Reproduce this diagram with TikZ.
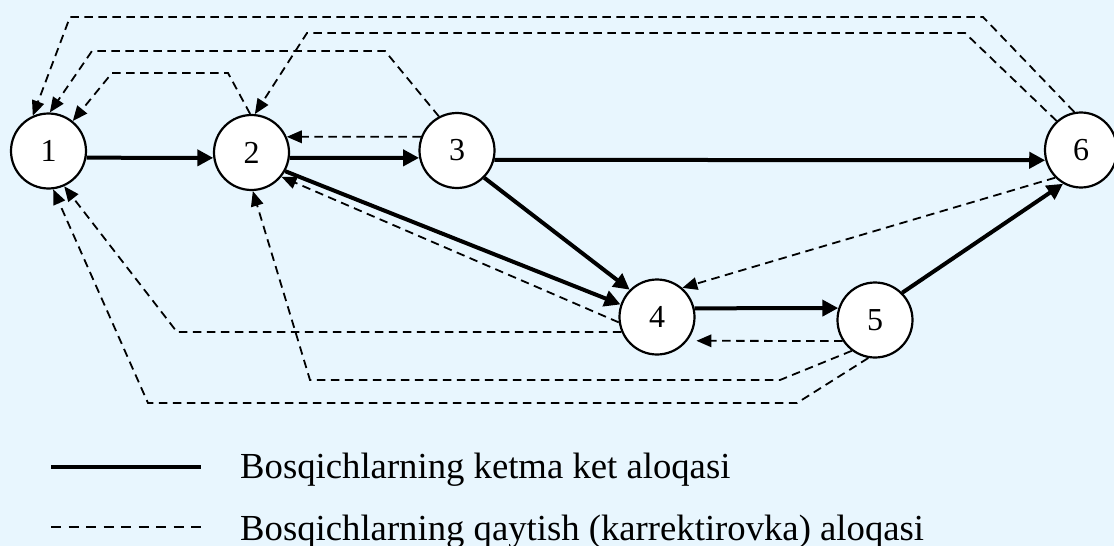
\documentclass[tikz,border=0pt]{standalone}
\usepackage{fontspec}
\setmainfont{Liberation Serif}
\usetikzlibrary{arrows.meta,shapes.geometric}
\definecolor{bg}{RGB}{232,246,254}
\begin{document}
\begin{tikzpicture}[x=1pt,y=-1pt,
  stage/.style={ellipse, draw, line width=2.2pt, fill=white, inner sep=0pt,
    minimum width=75pt, minimum height=75pt, font=\fontsize{32}{32}\selectfont},
  seq/.style={line width=4pt, -{Triangle[length=16pt,width=16pt]}},
  back/.style={line width=1.8pt, dash pattern=on 8.5pt off 5.5pt, -{Triangle[length=15pt,width=12.5pt]}},
  legtext/.style={anchor=base west, inner sep=0pt, font=\fontsize{36.7}{40}\selectfont}
]
\useasboundingbox (0,0) rectangle (1114,546);
\fill[bg] (0,0) rectangle (1114,546);

% stages
\node[stage] (n1) at (48.5,151) {1};
\node[stage] (n2) at (251.5,152.5) {2};
\node[stage] (n3) at (457,150.5) {3};
\node[stage, minimum width=72pt] (n6) at (1081,150) {6};
\node[stage] (n4) at (657,317) {4};
\node[stage] (n5) at (875,320) {5};

% sequential links
\draw[seq] (n1.-10) -- (n2.188);
\draw[seq] (n2.-8) -- (n3.191);
\draw[seq] (n3.-14) -- (n6.196);
\draw[seq] (n2.-29) -- (n4.161);
\draw[seq] (n3.-45) -- (n4.135);
\draw[seq] (n4.13.5) -- (n5.162);
\draw[seq] (n5.45) -- (n6.-118);

% return (correction) links
\draw[back] (n3.159.5) -- (n2.24);
\draw[back] (n6.-133) -- (n4.49);
\draw[back] (n4.188) -- (n2.-39);
\draw[back, shorten >=9pt] (n5.213.5) -- (n4.-38.6);
\draw[back] (n4.203) -- (177,332) -- (n1.-66);
\draw[back] (n5.-127) -- (780,380) -- (310,380) -- (n2.-88);
\draw[back] (n5.-100) -- (797,403) -- (148,403) -- (n1.-83);
\draw[back] (n6.100) -- (983,17) -- (70,17) -- (n1.114);
\draw[back] (n6.130) -- (965,33) -- (307,33) -- (n2.85);
\draw[back] (n3.118) -- (385,51) -- (92,51) -- (n1.88);
\draw[back] (n2.92) -- (228,73) -- (112,73) -- (n1.51);

% legend
\coordinate (l1a) at (51,467);
\coordinate (l1b) at (201,467);
\coordinate (l2a) at (51,527);
\coordinate (l2b) at (201,527);
\draw[line width=4pt] (l1a) -- (l1b);
\draw[line width=1.8pt, dash pattern=on 10pt off 7.5pt] (l2a) -- (l2b);
\node[legtext] (t1) at (240,478) {Bosqichlarning ketma ket aloqasi};
\node[legtext] (t2) at (240,540) {Bosqichlarning qaytish (karrektirovka) aloqasi};
\end{tikzpicture}
\end{document}
